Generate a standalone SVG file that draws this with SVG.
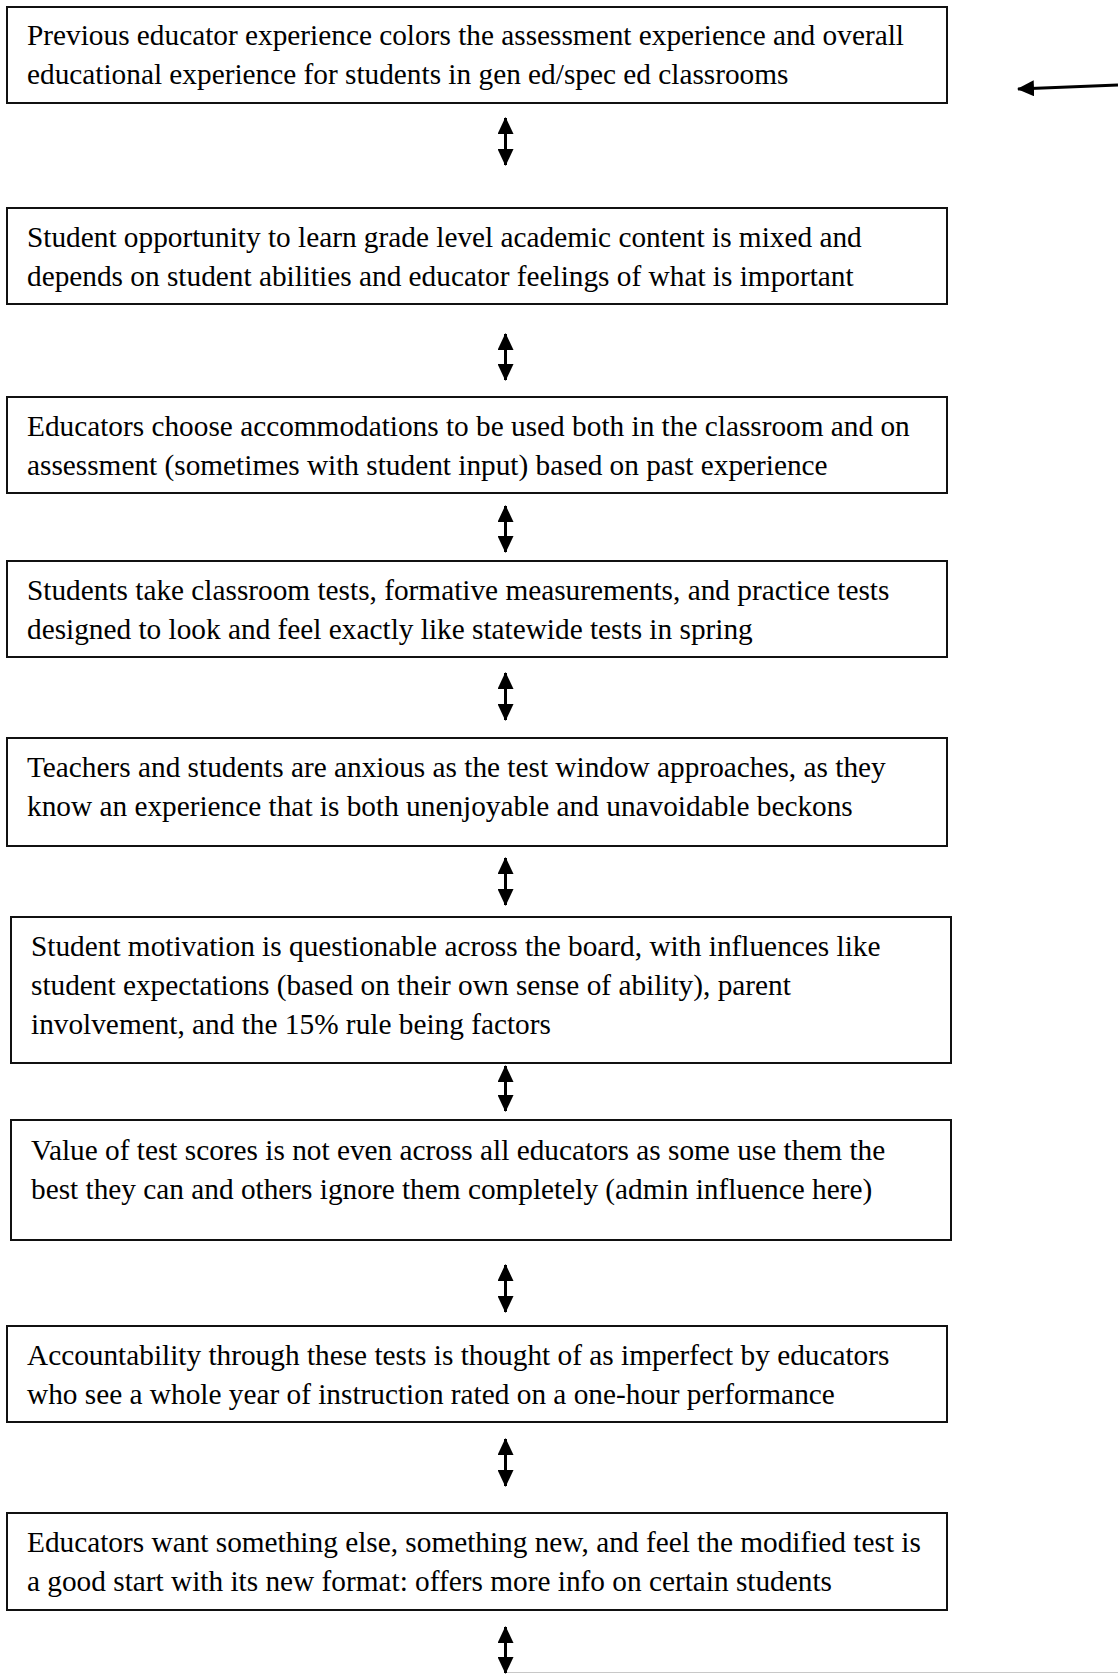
<svg xmlns="http://www.w3.org/2000/svg" width="1118" height="1674" viewBox="0 0 1118 1674">
<style>
.box{fill:#fff;stroke:#111;stroke-width:2}
.t{font-family:"Liberation Serif","Times New Roman",serif;font-size:29.3px;fill:#000}
.c{stroke:#000;stroke-width:3;fill:none}
</style>
<defs>
<marker id="ah" viewBox="0 0 17 16" refX="16" refY="8" markerWidth="17" markerHeight="16" markerUnits="userSpaceOnUse" orient="auto-start-reverse">
<path d="M0,0 L17,8 L0,16 z" fill="#000"/>
</marker>
</defs>
<rect width="1118" height="1674" fill="#fff"/>
<g id="connectors">
<line class="c" x1="1118" y1="85" x2="1018" y2="89" marker-end="url(#ah)"/>
<line class="c" x1="505.5" y1="118" x2="505.5" y2="165" marker-start="url(#ah)" marker-end="url(#ah)"/>
<line class="c" x1="505.5" y1="334" x2="505.5" y2="380" marker-start="url(#ah)" marker-end="url(#ah)"/>
<line class="c" x1="505.5" y1="506" x2="505.5" y2="552" marker-start="url(#ah)" marker-end="url(#ah)"/>
<line class="c" x1="505.5" y1="673" x2="505.5" y2="720" marker-start="url(#ah)" marker-end="url(#ah)"/>
<line class="c" x1="505.5" y1="858" x2="505.5" y2="905" marker-start="url(#ah)" marker-end="url(#ah)"/>
<line class="c" x1="505.5" y1="1066" x2="505.5" y2="1111" marker-start="url(#ah)" marker-end="url(#ah)"/>
<line class="c" x1="505.5" y1="1265" x2="505.5" y2="1312" marker-start="url(#ah)" marker-end="url(#ah)"/>
<line class="c" x1="505.5" y1="1439" x2="505.5" y2="1486" marker-start="url(#ah)" marker-end="url(#ah)"/>
<line class="c" x1="505.5" y1="1627" x2="505.5" y2="1673" marker-start="url(#ah)" marker-end="url(#ah)"/>
<line x1="507" y1="1672.5" x2="1118" y2="1672.5" stroke="#c8c8c8" stroke-width="1"/>
</g>
<g id="n1">
<rect class="box" x="7" y="7" width="940" height="96"/>
<text class="t" x="27" y="45">Previous educator experience colors the assessment experience and overall</text>
<text class="t" x="27" y="84">educational experience for students in gen ed/spec ed classrooms</text>
</g>
<g id="n2">
<rect class="box" x="7" y="208" width="940" height="96"/>
<text class="t" x="27" y="247">Student opportunity to learn grade level academic content is mixed and</text>
<text class="t" x="27" y="286">depends on student abilities and educator feelings of what is important</text>
</g>
<g id="n3">
<rect class="box" x="7" y="397" width="940" height="96"/>
<text class="t" x="27" y="436">Educators choose accommodations to be used both in the classroom and on</text>
<text class="t" x="27" y="475">assessment (sometimes with student input) based on past experience</text>
</g>
<g id="n4">
<rect class="box" x="7" y="561" width="940" height="96"/>
<text class="t" x="27" y="600">Students take classroom tests, formative measurements, and practice tests</text>
<text class="t" x="27" y="639">designed to look and feel exactly like statewide tests in spring</text>
</g>
<g id="n5">
<rect class="box" x="7" y="738" width="940" height="108"/>
<text class="t" x="27" y="777">Teachers and students are anxious as the test window approaches, as they</text>
<text class="t" x="27" y="816">know an experience that is both unenjoyable and unavoidable beckons</text>
</g>
<g id="n6">
<rect class="box" x="11" y="917" width="940" height="146"/>
<text class="t" x="31" y="956">Student motivation is questionable across the board, with influences like</text>
<text class="t" x="31" y="995">student expectations (based on their own sense of ability), parent</text>
<text class="t" x="31" y="1034">involvement, and the 15% rule being factors</text>
</g>
<g id="n7">
<rect class="box" x="11" y="1120" width="940" height="120"/>
<text class="t" x="31" y="1160">Value of test scores is not even across all educators as some use them the</text>
<text class="t" x="31" y="1199">best they can and others ignore them completely (admin influence here)</text>
</g>
<g id="n8">
<rect class="box" x="7" y="1326" width="940" height="96"/>
<text class="t" x="27" y="1365">Accountability through these tests is thought of as imperfect by educators</text>
<text class="t" x="27" y="1404">who see a whole year of instruction rated on a one-hour performance</text>
</g>
<g id="n9">
<rect class="box" x="7" y="1513" width="940" height="97"/>
<text class="t" x="27" y="1552">Educators want something else, something new, and feel the modified test is</text>
<text class="t" x="27" y="1591">a good start with its new format: offers more info on certain students</text>
</g>
</svg>
